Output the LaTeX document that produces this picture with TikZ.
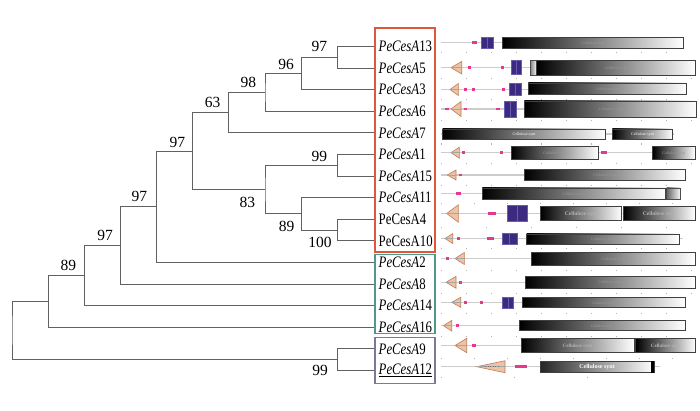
\documentclass[tikz,border=0pt]{standalone}
\usepackage{fontspec}
\setmainfont{Liberation Serif}
\newfontfamily\labfont[FakeStretch=0.8]{Liberation Serif}
\definecolor{redbox}{HTML}{E0573A}
\definecolor{greenbox}{HTML}{4E9A8A}
\definecolor{purplebox}{HTML}{7C7898}
\definecolor{tricol}{HTML}{EBC3A6}
\definecolor{tribd}{HTML}{C07C58}
\definecolor{pinkc}{HTML}{E8388E}
\definecolor{purpc}{HTML}{3B2A80}
\definecolor{purpbd}{HTML}{6B5BB0}
\newcommand\dTri[4]{\filldraw[tri] (#1,#3) -- (#2,{#3-#4}) -- (#2,{#3+#4}) -- cycle;
  \draw[black!35,line width=0.5pt] (#1,#3) -- (#2,#3);}
\newcommand\dPk[3]{\fill[pk] (#1,{#3-1.4}) rectangle (#2,{#3+1.4});}
\newcommand\dPu[5]{\filldraw[pu] (#1,#4) rectangle (#2,#5); \filldraw[pu] (#2,#4) rectangle (#3,#5);}
\newcommand\dGb[4]{\draw[grad] (#1,#3) rectangle (#2,#4);
  \node[dtxt] at ({(#1+#2)/2},{(#3+#4)/2+0.8}) {Cellulose synt};}
\newcommand\dBb[3]{\draw[bb] (#2,#1) -- (#3,#1);}
\newcommand\dTk[4]{\foreach \t in {#2,#3,...,#4} \draw[black!30,line width=0.4pt] (\t,#1) -- (\t,#1+1.2);}
\begin{document}
\begin{tikzpicture}[x=1pt,y=-1pt,
  tree/.style={draw=black!62, line width=0.9pt},
  leaflab/.style={anchor=west, inner sep=0pt, font=\labfont\fontsize{16}{16}\selectfont},
  bs/.style={font=\fontsize{15.5}{16}\selectfont, inner sep=0pt},
  bb/.style={draw=black!20, line width=1.3pt},
  tri/.style={fill=tricol, draw=tribd, line width=0.6pt},
  pk/.style={fill=pinkc, draw=none},
  pu/.style={fill=purpc, draw=purpbd, line width=0.4pt},
  grad/.style={left color=black, right color=white, draw=black!75, line width=0.7pt},
  dtxt/.style={font=\fontsize{4}{4}\selectfont, text=black!40, inner sep=0pt},
  grpbox/.style={line width=1.2pt}]
\useasboundingbox (0,0) rectangle (700,411);
% leaf ends
\foreach \i/\yy in {0/46.5,1/68.1,2/89.7,3/111.3,4/132.9,5/154.5,6/176.1,7/197.7,8/219.3,9/240.9,10/262.5,11/284.1,12/305.7,13/327.3,14/348.9,15/370.5}
  \coordinate (e\i) at (375,\yy);
% internal nodes
\coordinate (n1) at (337.3,57.3);
\coordinate (n2) at (301.7,73.5);
\coordinate (n3) at (265,92.4);
\coordinate (n4) at (228.7,112.65);
\coordinate (n5) at (337.3,165.3);
\coordinate (n6) at (337.3,230.1);
\coordinate (n7) at (301.7,213.9);
\coordinate (n8) at (265,189.6);
\coordinate (n9) at (192.7,151.1);
\coordinate (n10) at (156.7,206.8);
\coordinate (n11) at (120.7,245.45);
\coordinate (n12) at (84.7,275.6);
\coordinate (n13) at (48.3,301.4);
\coordinate (n14) at (337.3,359.7);
\coordinate (root) at (12,330.6);
% tree edges
\draw[tree] (e0) -| (n1) |- (e1);
\draw[tree] (n1) -| (n2) |- (e2);
\draw[tree] (n2) -| (n3) |- (e3);
\draw[tree] (n3) -| (n4) |- (e4);
\draw[tree] (e5) -| (n5) |- (e6);
\draw[tree] (e8) -| (n6) |- (e9);
\draw[tree] (e7) -| (n7) |- (n6);
\draw[tree] (n5) -| (n8) |- (n7);
\draw[tree] (n4) -| (n9) |- (n8);
\draw[tree] (n9) -| (n10) |- (e10);
\draw[tree] (n10) -| (n11) |- (e11);
\draw[tree] (n11) -| (n12) |- (e12);
\draw[tree] (n12) -| (n13) |- (e13);
\draw[tree] (e14) -| (n14) |- (e15);
\draw[tree] (n13) -| (root) |- (n14);
% bootstrap values
\node[bs] (b1) at (319.3,46) {97};
\node[bs] (b2) at (286,64.3) {96};
\node[bs] (b3) at (248.3,82.7) {98};
\node[bs] (b4) at (212.7,102.7) {63};
\node[bs] (b5) at (177.3,142.7) {97};
\node[bs] (b6) at (319.3,156.7) {99};
\node[bs] (b7) at (247.3,202.7) {83};
\node[bs] (b8) at (139.3,196.7) {97};
\node[bs] (b9) at (286.7,226) {89};
\node[bs] (b10) at (320,242.3) {100};
\node[bs] (b11) at (105,235) {97};
\node[bs] (b12) at (68.3,265.7) {89};
\node[bs] (b13) at (320,370.7) {99};
% leaf labels
\node[leaflab] (l0) at (378.5,46.5) {\textit{PeCesA}13};
\node[leaflab] (l1) at (378.5,68.1) {\textit{PeCesA}5};
\node[leaflab] (l2) at (378.5,89.7) {\textit{PeCesA}3};
\node[leaflab] (l3) at (378.5,111.3) {\textit{PeCesA}6};
\node[leaflab] (l4) at (378.5,132.9) {\textit{PeCesA}7};
\node[leaflab] (l5) at (378.5,154.5) {\textit{PeCesA}1};
\node[leaflab] (l6) at (378.5,176.1) {\textit{PeCesA}15};
\node[leaflab] (l7) at (378.5,197.7) {\textit{PeCesA}11};
\node[leaflab] (l8) at (378.5,219.3) {PeCesA4};
\node[leaflab] (l9) at (378.5,240.9) {PeCesA10};
\node[leaflab] (l10) at (378.5,262.5) {\textit{PeCesA}2};
\node[leaflab] (l11) at (378.5,284.1) {\textit{PeCesA}8};
\node[leaflab] (l12) at (378.5,305.7) {\textit{PeCesA}14};
\node[leaflab] (l13) at (378.5,327.3) {\textit{PeCesA}16};
\node[leaflab] (l14) at (378.5,348.9) {\textit{PeCesA}9};
\node[leaflab] (l15) at (378.5,370.5) {\underline{\textit{PeCesA}12}};
% group boxes
\draw[grpbox,redbox] (375,28) rectangle (435,252);
\draw[grpbox,greenbox] (375,254.5) rectangle (435,333.5);
\draw[grpbox,purplebox] (375,337.5) rectangle (435,383.5);
% ===== domain rows =====
% A13
\dBb{42.7}{441}{683}\dTk{52}{441}{466}{683}
\dPk{471.7}{476.7}{42.7}
\dPu{481}{487.3}{493.3}{37.3}{48.3}
\dGb{502.7}{683.3}{37.3}{48.3}
% A5
\dBb{67.7}{441}{696}\dTk{78}{441}{466}{696}
\dTri{451}{461.7}{67.7}{6.3}
\dPk{468}{471}{67.7}\dPk{501.2}{504.2}{67.7}
\dPu{510.7}{515.7}{521}{60.5}{74.5}
\draw[left color=black!50,right color=white,draw=black!70,line width=0.6pt] (530,60.7) rectangle (536.7,75);
\dGb{536.7}{695.7}{60.7}{75}
% A3
\dBb{89.5}{441}{686}\dTk{99}{441}{466}{686}
\dTri{450}{458.3}{89.5}{6}
\dPk{463.5}{466.5}{89.5}\dPk{472}{475}{89.5}\dPk{502}{505}{89.5}
\dPu{509.3}{515}{520.7}{83}{95}
\dGb{528.3}{686}{83}{94.5}
% A6
\dBb{109}{441}{697}\dTk{120}{441}{466}{697}
\dPk{445}{448.5}{109}
\dTri{451}{461}{109}{7.5}
\dPk{463.5}{467}{109}\dPk{496}{499.5}{109}
\dPu{504.3}{510}{515.7}{101}{117}
\dGb{524.3}{696.7}{101}{117}
% A7
\dBb{134}{441}{674}\dTk{143.5}{441}{491}{674}
\draw[grad] (442.7,129) rectangle (605.7,139);
\node[dtxt,text=white] at (524,134.5) {Cellulose synt};
\draw[grad] (612.3,129) rectangle (672.7,139);
\node[dtxt,text=white] at (642.5,134.5) {Cellulose synt};
% A1
\dBb{152.7}{441}{695}\dTk{163}{441}{466}{695}
\dTri{451}{459.3}{152.7}{5.5}
\dPk{462}{465}{152.7}\dPk{499.5}{502.5}{152.7}
\dGb{511}{598.3}{146.7}{159}
\dPk{600.7}{607.3}{152.7}
\dGb{652.7}{695}{146.7}{159}
% A15
\dBb{175}{441}{685}\dTk{185}{441}{466}{685}
\dTri{447.3}{456}{175}{5}
\dPk{459.3}{462.3}{175}
\dGb{524.3}{685}{169.5}{180.7}
% A11
\dBb{193.5}{441}{681}\dTk{203}{441}{474}{681}
\dPk{456}{460.7}{193.5}
\dGb{482.3}{665.7}{188}{199}
\draw[left color=black!60,right color=white,draw=black!70,line width=0.6pt] (666.7,188) rectangle (680.7,199);
% A4
\dBb{213.5}{441}{695}\dTk{227}{441}{486}{695}
\dTri{446.7}{458.3}{213.5}{8.7}
\dPk{488.3}{496}{213.5}
\dPu{506.7}{517.3}{526.7}{205}{221}
\draw[grad] (540.7,206.7) rectangle (621.7,220.7);
\node[font=\fontsize{5.5}{5.5}\selectfont\bfseries,text=black!30,inner sep=0pt] at (581.2,214.5) {Cellulose synt};
\draw[grad] (623.3,206.7) rectangle (695,220.7);
\node[font=\fontsize{5.5}{5.5}\selectfont\bfseries,text=black!30,inner sep=0pt] at (659.2,214.5) {Cellulose synt};
% A10
\dBb{238.5}{441}{683}\dTk{248}{441}{466}{683}
\dTri{445}{452.7}{238.5}{5}
\dPk{457}{460}{238.5}\dPk{486.7}{494}{238.5}
\dPu{502}{509}{516.7}{233.3}{244.3}
\dGb{526.7}{679}{234}{244}
% A2
\dBb{258.5}{441}{695}\dTk{270}{441}{466}{695}
\dPk{446}{449.3}{258.5}
\dTri{455}{464.3}{258.5}{6}
\dGb{531}{695}{252.7}{265}
% A8
\dBb{282.3}{441}{695}\dTk{293}{441}{466}{695}
\dTri{446}{456}{282.3}{6}
\dPk{459.3}{462.3}{282.3}
\dGb{525}{695}{276}{288.3}
% A14
\dBb{302.3}{441}{685}\dTk{313}{441}{466}{685}
\dTri{451.7}{460.7}{302.3}{5}
\dPk{464.2}{467.2}{302.3}\dPk{480.2}{483.2}{302.3}
\dPu{502.3}{507.7}{513.3}{297.3}{308.3}
\dGb{522.3}{685}{297.3}{307.3}
% A16
\dBb{325.7}{441}{685}\dTk{336}{441}{466}{685}
\dTri{443.3}{451.7}{325.7}{5.3}
\dPk{455.8}{458.8}{325.7}
\dGb{519.3}{685}{320}{330.7}
% A9
\dBb{345.5}{441}{696}\dTk{358}{441}{474}{696}
\dTri{455}{466.7}{345.5}{7.2}
\dPk{471.7}{476}{345.5}
\draw[grad] (521,338.3) rectangle (634,352.7);
\node[font=\fontsize{5}{5}\selectfont\bfseries,text=black!30,inner sep=0pt] at (577.5,346.5) {Cellulose synt};
\draw[grad] (635.7,338.3) rectangle (695.7,352.7);
\node[font=\fontsize{5}{5}\selectfont\bfseries,text=black!30,inner sep=0pt] at (665.7,346.5) {Cellulose synt};
% A12
\dBb{366.7}{441}{660}
\foreach \t in {441,514,587} \draw[black!30,line width=0.4pt] (\t,376.5) -- (\t,377.7);
\dTri{476.7}{505}{366.7}{6}
\draw[black!55,line width=0.6pt,dotted] (485,366.7) -- (500,366.7);
\dPk{515}{527.3}{366.7}
\draw[left color=black!85,right color=white,draw=black!75,line width=0.7pt] (540.7,361) rectangle (654,372.7);
\fill[black] (650.5,361) rectangle (654,372.7);
\node[font=\fontsize{6}{6}\selectfont\bfseries,text=white,inner sep=0pt] at (597,367.5) {Cellulose synt};
\end{tikzpicture}
\end{document}
